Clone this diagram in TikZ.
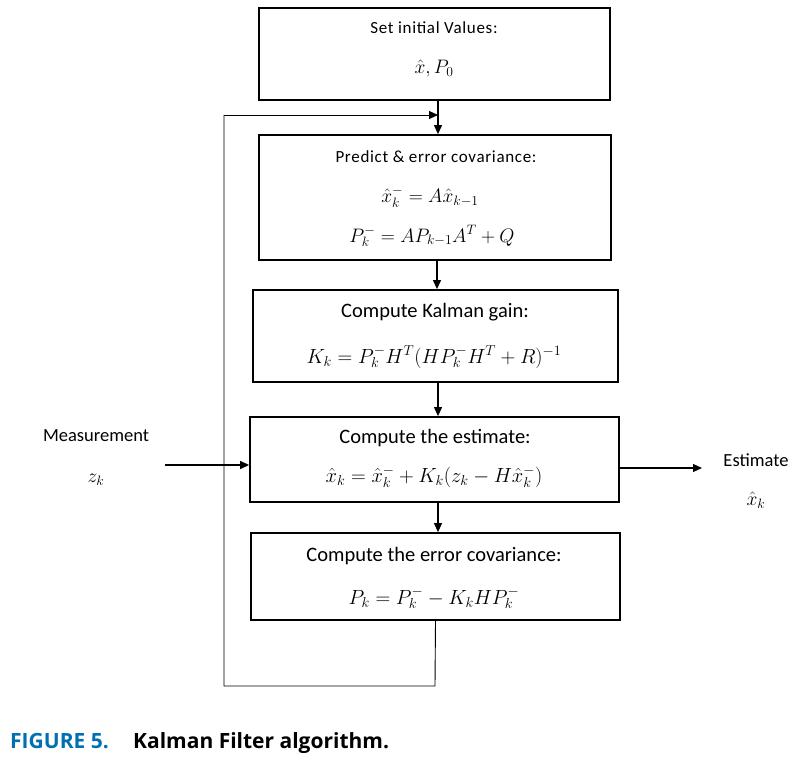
\documentclass[tikz,border=0pt]{standalone}
\usepackage{fix-cm}
\usepackage{fontspec}
\setmainfont{Carlito}
\newfontfamily\capfont{Open Sans}
\usetikzlibrary{arrows.meta}
\definecolor{capblue}{RGB}{0,112,176}
\begin{document}
\begin{tikzpicture}[x=1pt,y=-1pt,
  box/.style={draw, line width=1.8pt, rectangle, inner sep=0pt},
  tsmall/.style={inner sep=0pt, font=\fontsize{17}{20}\selectfont\addfontfeature{LetterSpace=4}},
  msmall/.style={inner sep=0pt, font=\fontsize{19.5}{23}\selectfont},
  tbig/.style={inner sep=0pt, font=\fontsize{20.5}{24}\selectfont},
  tlab/.style={inner sep=0pt, font=\fontsize{18.5}{22}\selectfont},
  conn/.style={line width=1.1pt},
  arr/.style={line width=1.1pt, -{Triangle[length=9pt,width=8pt]}},
  captext/.style={inner sep=0pt, anchor=base west, font=\capfont\bfseries\fontsize{21}{25}\selectfont}]
\useasboundingbox (0,0) rectangle (804,760);
% boxes
\node[box, minimum width=351pt, minimum height=92pt] (b1) at (434.5,54) {};
\node[box, minimum width=352pt, minimum height=125pt] (b2) at (435,197.5) {};
\node[box, minimum width=365pt, minimum height=92pt] (b3) at (435.5,336) {};
\node[box, minimum width=369pt, minimum height=85pt] (b4) at (434.5,459.5) {};
\node[box, minimum width=369pt, minimum height=87pt] (b5) at (435.5,576.5) {};
% texts
\node[tsmall] (b1t) at (434,28) {Set initial Values:};
\node[msmall] (b1m) at (434,69) {$\hat{x}, P_0$};
\node[tsmall] (b2t) at (436,157) {Predict \& error covariance:};
\node[msmall] (b2a) at (430,197) {$\hat{x}_k^- = A\hat{x}_{k-1}$};
\node[msmall] (b2b) at (432,236) {$P_k^- = AP_{k-1}A^T + Q$};
\node[tbig] (b3t) at (435,312) {Compute Kalman gain:};
\node[tbig] (b3m) at (434,357) {$K_k = P_k^- H^T (HP_k^- H^T + R)^{-1}$};
\node[tbig] (b4t) at (435,438) {Compute the estimate:};
\node[tbig] (b4m) at (434,477) {$\hat{x}_k = \hat{x}_k^- + K_k(z_k - H\hat{x}_k^-)$};
\node[tbig] (b5t) at (434,556) {Compute the error covariance:};
\node[tbig] (b5m) at (434,598) {$P_k = P_k^- - K_k H P_k^-$};
% side labels
\node[tlab] (meas) at (96,436) {Measurement};
\node[msmall] (zk) at (96,480) {$z_k$};
\node[tlab] (est) at (756,460) {Estimate};
\node[msmall] (xk) at (756,500) {$\hat{x}_k$};
% connectors
\coordinate (j) at (438,115);
\coordinate (lb) at (435,686);
\coordinate (ll) at (224,686);
\coordinate (lt) at (224,115);
\coordinate (min) at (165,465);
\coordinate (eout) at (702,468);
\draw[arr] ([xshift=3.5pt]b1.south) -- ([xshift=3pt]b2.north);
\draw[arr] ([xshift=2pt]b2.south) -- ([xshift=1.5pt]b3.north);
\draw[arr] ([xshift=2.5pt]b3.south) -- ([xshift=3.5pt]b4.north);
\draw[arr] ([xshift=3.5pt]b4.south) -- ([xshift=2.5pt]b5.north);
\draw[conn, line width=0.9pt] (b5.south) -- (lb) -- (ll) -- (lt);
\draw[arr, line width=0.9pt] (lt) -- (j);
\draw[arr] (min) -- (b4.west |- min);
\draw[arr] (b4.east |- eout) -- (eout);
% caption
\node[captext, text=capblue] (cap1) at (10,748) {FIGURE 5.};
\node[captext] (cap2) at (133,748) {Kalman Filter algorithm.};
\end{tikzpicture}
\end{document}
